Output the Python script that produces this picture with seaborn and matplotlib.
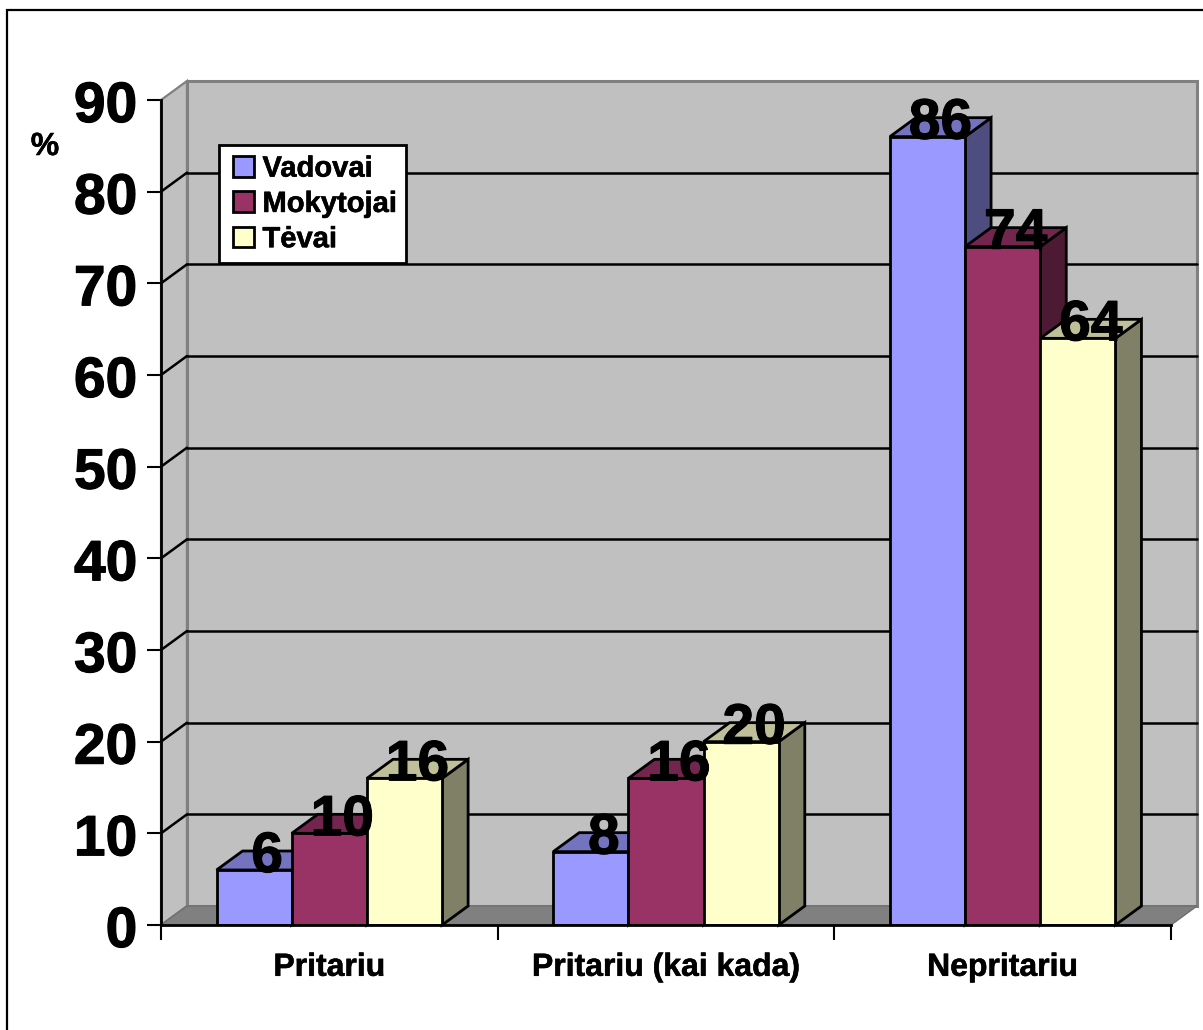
import numpy as np
import pandas as pd
import seaborn as sns
import matplotlib.pyplot as plt
import matplotlib.patheffects as pe
from matplotlib.colors import to_rgb
from matplotlib.patches import Polygon, Rectangle
from matplotlib.transforms import Affine2D

kategorijos = ['Pritariu', 'Pritariu (kai kada)', 'Nepritariu']
grupes = ['Vadovai', 'Mokytojai', 'Tėvai']
vadovai = [6, 8, 86]
mokytojai = [10, 16, 74]
tevai = [16, 20, 64]
spalvos = ['#9999FF', '#993366', '#FFFFCC']
y_ticks = [0, 10, 20, 30, 40, 50, 60, 70, 80, 90]

W, H = 1203, 1030
# 3d gylis duomenu vienetais (26 px i desine, 19 px i virsu)
DX = 26 / (1010 / 3)
DY = 19 / (825 / 90)

df = pd.DataFrame({
    'kategorija': kategorijos * 3,
    'grupe': np.repeat(grupes, 3),
    'procentai': vadovai + mokytojai + tevai,
})

sns.set_style('white')
plt.rcParams['font.family'] = ['Liberation Sans', 'DejaVu Sans']
plt.rcParams['font.weight'] = 'bold'
plt.rcParams['text.color'] = 'black'
plt.rcParams['xtick.color'] = 'black'
plt.rcParams['ytick.color'] = 'black'

storas = [pe.withStroke(linewidth=0.8, foreground='black')]
plonas = [pe.withStroke(linewidth=0.4, foreground='black')]

fig = plt.figure(figsize=(W / 100, H / 100), dpi=100)
ax = fig.add_axes([161 / W, 1 - 925 / H, 1010 / W, 825 / H])
ax.patch.set_alpha(0)

sns.barplot(data=df, x='kategorija', y='procentai', hue='grupe', palette=spalvos,
            saturation=1, width=0.67, gap=0, edgecolor='black', linewidth=2,
            legend=True, zorder=5, ax=ax)
ax.set_xlim(-0.5, 2.5)
ax.set_ylim(0, 90)
ax.set_xlabel('')
ax.set_ylabel('')

# sienos ir grindys
x0, x1 = -0.5, 2.5
ax.add_patch(Polygon([(x0, 0), (x0 + DX, DY), (x0 + DX, 90 + DY), (x0, 90)], fc='#C0C0C0',
                     ec='#808080', lw=1.6, clip_on=False, zorder=1))
ax.add_patch(Polygon([(x0 + DX, DY), (x1 + DX, DY), (x1 + DX, 90 + DY), (x0 + DX, 90 + DY)],
                     fc='#C0C0C0', ec='#808080', lw=2.2, clip_on=False, zorder=1))
ax.add_patch(Polygon([(x0, 0), (x1, 0), (x1 + DX, DY), (x0 + DX, DY)], fc='#808080',
                     ec='#707070', lw=1, clip_on=False, zorder=1.5))

for v in y_ticks[1:-1]:
    ax.plot([x0 + DX, x1 + DX], [v + DY, v + DY], color='black', lw=1.8, clip_on=False, zorder=2)
    ax.plot([x0, x0 + DX], [v, v + DY], color='black', lw=1.8, clip_on=False, zorder=2)

# stulpeliu sonai ir virsus
z = 3.0
for cont, spalva in zip(ax.containers, spalvos):
    rgb = np.array(to_rgb(spalva))
    for bar in cont:
        l, r, h = bar.get_x(), bar.get_x() + bar.get_width(), bar.get_height()
        ax.add_patch(Polygon([(r, 0), (r + DX, DY), (r + DX, h + DY), (r, h)], fc=rgb * 0.5,
                             ec='black', lw=2, clip_on=False, zorder=z))
        ax.add_patch(Polygon([(l, h), (r, h), (r + DX, h + DY), (l + DX, h + DY)], fc=rgb * 0.75,
                             ec='black', lw=2, clip_on=False, zorder=z + 0.01))
        ax.annotate(f'{h:.0f}', (l + bar.get_width() / 2, h), xytext=(13, -2),
                    textcoords='offset pixels', ha='center', va='baseline',
                    fontsize=41, fontweight='bold', color='black', zorder=7,
                    annotation_clip=False, path_effects=storas)
    z += 0.1

# asys
sns.despine(ax=ax, top=True, right=True)
for s in ['left', 'bottom']:
    ax.spines[s].set_color('black')
    ax.spines[s].set_linewidth(2)
    ax.spines[s].set_zorder(6)

ax.set_yticks(y_ticks)
ax.tick_params(axis='y', length=10, width=1.5, color='black', pad=7, labelsize=41, left=True)
ax.set_xticks([-0.5, 0.5, 1.5, 2.5])
ax.set_xticklabels([])
ax.set_xticks([0, 1, 2], minor=True)
ax.set_xticklabels(kategorijos, minor=True, fontsize=23, fontweight='bold', color='black')
ax.tick_params(axis='x', which='major', length=11, width=1.5, color='black', bottom=True)
ax.tick_params(axis='x', which='minor', length=0, pad=20)
for t in ax.get_yticklabels():
    t.set_fontweight('bold')
    t.set_color('black')
    t.set_path_effects(storas)
    t.set_transform(t.get_transform() + Affine2D().translate(0, -1))
for t in ax.get_xticklabels(minor=True):
    t.set_path_effects(plonas)

fig.text(45 / W, 1 - 147 / H, '%', ha='center', va='center', fontsize=23, fontweight='bold',
         color='black', path_effects=plonas)

handles, labels = ax.get_legend_handles_labels()
leg = ax.legend(handles, labels, loc='upper left', bbox_to_anchor=(219 / W, 1 - 145 / H),
                bbox_transform=fig.transFigure, borderaxespad=0, fancybox=False, framealpha=1,
                edgecolor='black', facecolor='white', fontsize=21, title=None,
                handlelength=0.86, handleheight=0.72, handletextpad=0.3, labelspacing=0.25,
                borderpad=0.33, labelcolor='black')
leg.get_frame().set_linewidth(2)
leg.set_zorder(8)
for p in leg.get_patches():
    p.set_x(4.4 * 0.72)
    p.set_width(21 * 0.72)
for t in leg.get_texts():
    t.set_path_effects(plonas)

# isorinis remelis
fig.add_artist(Rectangle((7 / W, -0.02), 1.05, 1 - 10 / H + 0.02, transform=fig.transFigure,
                         fill=False, ec='black', lw=1.6))

fig.savefig('out.png', dpi=100)
